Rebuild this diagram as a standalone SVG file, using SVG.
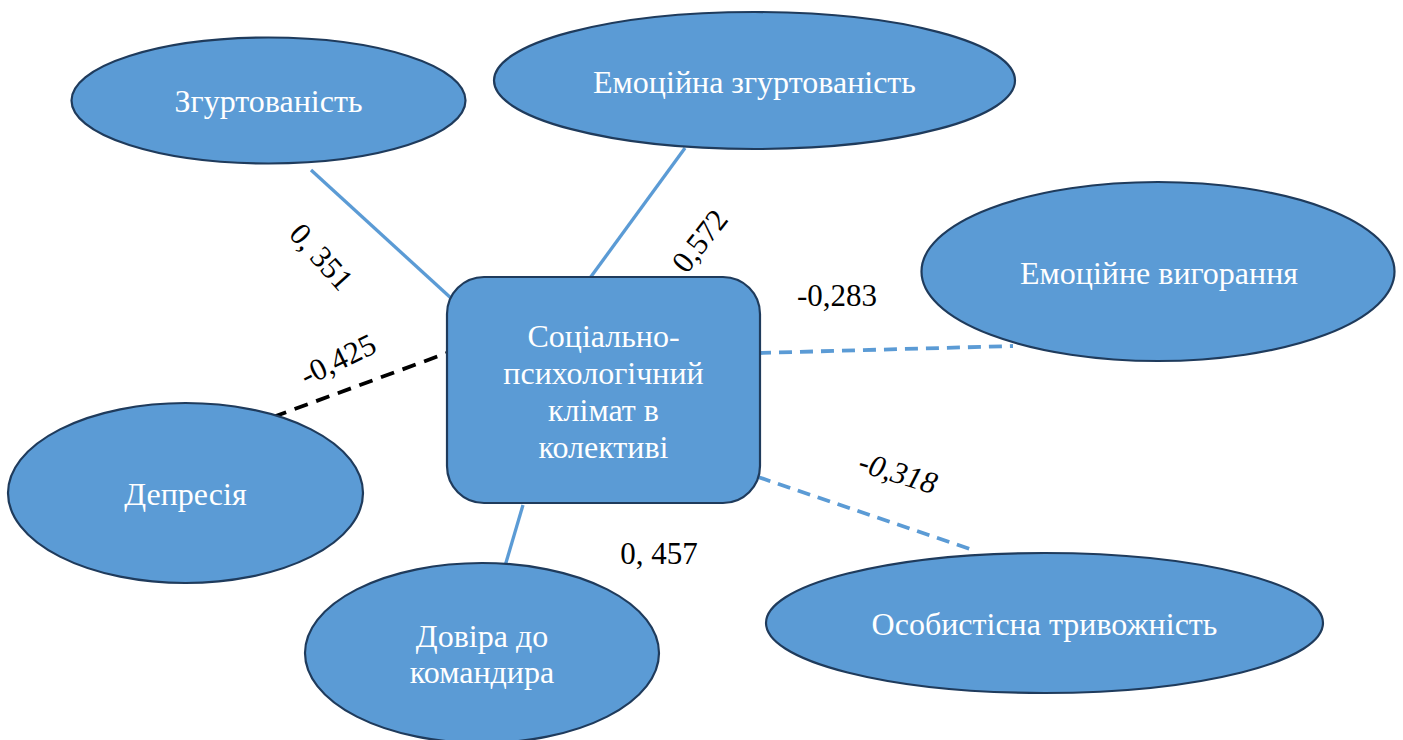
<svg xmlns="http://www.w3.org/2000/svg" width="1403" height="740" viewBox="0 0 1403 740">
<style>
.node{fill:#5B9BD5;stroke:#1F3B5C;stroke-width:2.2}
.nt{font-family:"Liberation Serif","DejaVu Serif","Times New Roman",serif;font-size:32px;fill:#FFFFFF;text-anchor:middle}
.lbl{font-family:"Liberation Serif","DejaVu Serif","Times New Roman",serif;font-size:31px;fill:#000000;text-anchor:middle}
.solid{stroke:#5B9BD5;stroke-width:3.3;fill:none}
.dash{stroke:#5B9BD5;stroke-width:3.8;fill:none;stroke-dasharray:13 8}
.bdash{stroke:#000000;stroke-width:3.8;fill:none;stroke-dasharray:14 9}
</style>
<rect width="1403" height="740" fill="#FFFFFF"/>
<g id="connectors">
<line class="solid" x1="311" y1="170" x2="452" y2="299"/>
<line class="solid" x1="685" y1="148" x2="590" y2="278"/>
<line class="dash" x1="758" y1="353" x2="1013" y2="346"/>
<line class="dash" x1="758" y1="477" x2="973" y2="550"/>
<line class="bdash" x1="273" y1="417" x2="447" y2="353"/>
<line class="solid" x1="523" y1="505" x2="505" y2="566"/>
</g>
<g id="labels">
<text class="lbl" transform="translate(321,257) rotate(48)" y="10">0, 351</text>
<text class="lbl" transform="translate(700,241) rotate(-52)" y="10">0,572</text>
<text class="lbl" x="837" y="306">-0,283</text>
<text class="lbl" transform="translate(338,360) rotate(-26)" y="10">-0,425</text>
<text class="lbl" transform="translate(898,473) rotate(17)" y="10" font-style="italic">-0,318</text>
<text class="lbl" x="659" y="564">0, 457</text>
</g>
<g id="node-zgurtovanist">
<ellipse class="node" cx="268.5" cy="100.5" rx="197" ry="63"/>
<text class="nt" x="268.5" y="112">Згуртованість</text>
</g>
<g id="node-emotsiina-zgurtovanist">
<ellipse class="node" cx="754.5" cy="80.5" rx="260.5" ry="68.5"/>
<text class="nt" x="754.5" y="93">Емоційна згуртованість</text>
</g>
<g id="node-emotsiine-vyhorannia">
<ellipse class="node" cx="1158" cy="271.5" rx="236.5" ry="89.5"/>
<text class="nt" x="1159" y="284">Емоційне вигорання</text>
</g>
<g id="node-depresiia">
<ellipse class="node" cx="185.5" cy="493" rx="177.5" ry="90"/>
<text class="nt" x="185.5" y="505">Депресія</text>
</g>
<g id="node-dovira">
<ellipse class="node" cx="482" cy="653" rx="177" ry="90"/>
<text class="nt" x="482" y="647">Довіра до</text>
<text class="nt" x="482" y="683">командира</text>
</g>
<g id="node-osobystisna">
<ellipse class="node" cx="1044.5" cy="623" rx="278.5" ry="70"/>
<text class="nt" x="1044.5" y="635">Особистісна тривожність</text>
</g>
<g id="node-klimat">
<rect class="node" x="447" y="277" width="313" height="226" rx="37" ry="37"/>
<text class="nt" x="603.5" y="347">Соціально-</text>
<text class="nt" x="603.5" y="384">психологічний</text>
<text class="nt" x="603.5" y="421">клімат в</text>
<text class="nt" x="603.5" y="458">колективі</text>
</g>
</svg>
